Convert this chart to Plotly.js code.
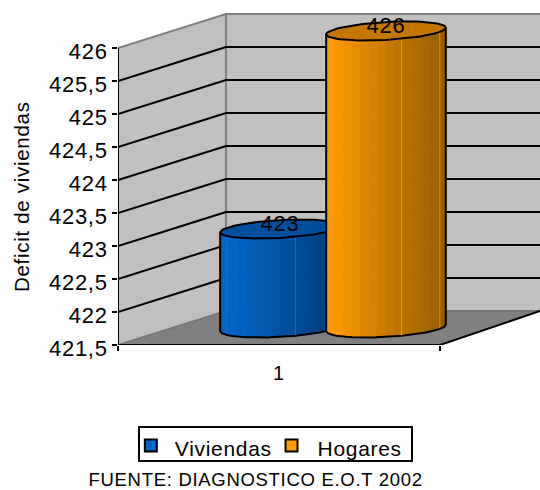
<!DOCTYPE html>
<html>
<head>
<meta charset="utf-8">
<script src="https://cdn.plot.ly/plotly-3.0.1.min.js"></script>
<style>
  html, body { margin: 0; padding: 0; background: #fff; }
  #chart text { letter-spacing: 0.7px; }
  /* Legend keys sit close to the frame, with a wider gap before each name */
  #chart .legend .traces:nth-child(1) .legendsymbols { transform: translate(-9px, -4.5px); }
  #chart .legend .traces:nth-child(1) .legendtext { transform: translate(-5px, -2px); }
  #chart .legend .traces:nth-child(2) .legendsymbols { transform: translate(-4px, -4.5px); }
  #chart .legend .traces:nth-child(2) .legendtext { transform: translate(2px, -2px); }
  #chart .legend .bg { width: 273px; height: 34.5px; transform: translateY(-2px); }
</style>
</head>
<body>
<div id="chart" style="width:540px;height:490px"></div>
<script>
// Chart data
const seriesNames = ['Viviendas', 'Hogares'];
const seriesValues = [423, 426];
const categoryLabels = ['1'];
const tickValues = [421.5, 422, 422.5, 423, 423.5, 424, 424.5, 425, 425.5, 426];
const tickLabels = ['421,5', '422', '422,5', '423', '423,5', '424', '424,5', '425', '425,5', '426'];
const axisTitle = 'Deficit de viviendas';
const sourceNote = 'FUENTE: DIAGNOSTICO E.O.T 2002';

// Box geometry in axis units: the floor and the back wall are sheared away from the front plane
const yMin = 421.5, yMax = 426;
const depthX = 0.3354, depthY = 0.5152;
const xFront = [-0.5, 0.5];
const xEnd = 0.8106;
const yTop = 426.545;
const seriesOffset = [-0.1646, 0.1646];

// Cylinder cross-section: sheared circle
const R = 0.174, P = 0.065, Q = 0.144;
const W = Math.hypot(R, P), PHI = Math.atan2(P, R);

const palette = [
  { from: [0, 102, 204], to: [0, 62, 122], cap: '#00509f' },
  { from: [255, 153, 0], to: [150, 94, 0], cap: '#c47600' }
];
const BANDS = 14;

const mix = (a, b, k) => `rgb(${a.map((v, i) => Math.round(v + (b[i] - v) * k)).join(',')})`;
const lowerArc = (cx, level, x) => level + Q * Math.sin(PHI - Math.acos(Math.max(-1, Math.min(1, (x - cx) / W))));

function ellipse(cx, level) {
  const xs = [], ys = [];
  for (let i = 0; i <= 72; i++) {
    const t = i / 72 * 2 * Math.PI;
    xs.push(cx + R * Math.cos(t) + P * Math.sin(t));
    ys.push(level + Q * Math.sin(t));
  }
  return { x: xs, y: ys };
}

function arcPoints(cx, level, a, b, n) {
  const xs = [], ys = [];
  for (let i = 0; i <= n; i++) {
    const x = a + (b - a) * i / n;
    xs.push(x);
    ys.push(lowerArc(cx, level, x));
  }
  return { x: xs, y: ys };
}

const traces = [];
const line = (x, y, color, width) => traces.push({
  x, y, mode: 'lines', line: { color, width }, showlegend: false, hoverinfo: 'skip', cliponaxis: false
});

// Walls and floor
const backX = xFront[0] + depthX;
const backBase = yMin + depthY;
const backTop = yMax + depthY;
const poly = (xs, ys, color) => ({
  type: 'path', layer: 'below', xref: 'x', yref: 'y',
  path: 'M' + xs.map((x, i) => `${x},${ys[i]}`).join('L') + 'Z',
  fillcolor: color, line: { width: 0 }
});
const shapes = [
  poly([xFront[0], backX, backX, xFront[0]], [yMin, backBase, backTop, yMax], '#c0c0c0'),
  poly([backX, xEnd, xEnd, backX], [backBase, backBase, backTop, backTop], '#c0c0c0'),
  poly([xFront[0], xFront[1], xEnd, backX], [yMin, yMin, backBase, backBase], '#808080')
];

// Wall edges
line([xFront[0], backX, xEnd], [yMax, backTop, backTop], '#808080', 2);
line([backX, backX], [backBase, backTop], '#808080', 2);
line([xFront[0], backX, xEnd], [yMin, backBase, backBase], '#777777', 2);

// Gridlines run along the side wall and across the back wall
tickValues.slice(1, -1).forEach(v => {
  line([xFront[0], backX, xEnd], [v, v + depthY, v + depthY], '#000000', 2);
});

// Legend entries and the solid core of each column
seriesNames.forEach((name, i) => {
  traces.splice(i, 0, {
    type: 'bar', name, x: [seriesOffset[i] + depthX / 2], y: [seriesValues[i] - yMin],
    base: [yMin + depthY / 2], width: [0.02],
    marker: { color: mix(palette[i].from, palette[i].from, 0), line: { color: '#000', width: 2 } },
    hoverinfo: 'skip'
  });
});

// Cylinders
seriesValues.forEach((value, i) => {
  const cx = seriesOffset[i] + depthX / 2;
  const top = value + depthY / 2;
  const base = yMin + depthY / 2;
  for (let b = 0; b < BANDS; b++) {
    const a = cx - W + 2 * W * b / BANDS;
    const c = cx - W + 2 * W * (b + 1) / BANDS;
    const up = arcPoints(cx, top, a, c, 4);
    const down = arcPoints(cx, base, c, a, 4);
    const k = (b / (BANDS - 1));
    const color = mix(palette[i].from, palette[i].to, k);
    traces.push({
      x: up.x.concat(down.x), y: up.y.concat(down.y), mode: 'lines', fill: 'toself',
      fillcolor: color, line: { width: 1, color },
      showlegend: false, hoverinfo: 'skip', cliponaxis: false
    });
  }
  // Faint highlights along the shaft
  [0.05, 0.63, 0.95].forEach(f => {
    const hx = cx - W + 2 * W * f;
    line([hx, hx], [lowerArc(cx, base, hx), lowerArc(cx, top, hx)],
      mix(palette[i].from, [255, 255, 255], 0.12), 0.7);
  });
  // Outline of the shaft
  const bottom = arcPoints(cx, base, cx - W, cx + W, 60);
  line(
    [cx - W].concat(bottom.x, [cx + W]),
    [lowerArc(cx, top, cx - W)].concat(bottom.y, [lowerArc(cx, top, cx + W)]),
    '#000000', 2
  );
  // Top cap
  const cap = ellipse(cx, top);
  traces.push({
    x: cap.x, y: cap.y, mode: 'lines', fill: 'toself', fillcolor: palette[i].cap,
    line: { color: '#000000', width: 2 }, showlegend: false, hoverinfo: 'skip', cliponaxis: false
  });
});

// Front edges of the box
line([xFront[0], xFront[0]], [yMin, yMax], '#000000', 2);
line([xFront[0], xFront[1], xEnd], [yMin, yMin, backBase], '#000000', 2);

// Value labels
traces.push({
  x: seriesOffset.map(o => o + depthX / 2),
  y: seriesValues.map(v => v + depthY / 2 + 0.05),
  text: seriesValues.map(String),
  mode: 'text', textposition: 'middle center',
  textfont: { family: 'Liberation Sans, Arial, sans-serif', size: 22, color: '#000' },
  showlegend: false, hoverinfo: 'skip', cliponaxis: false
});

// Tick marks at the category boundaries, on a second axis sharing the same scale
traces.push({ x: xFront, y: [yMin, yMin], xaxis: 'x2', mode: 'none', showlegend: false, hoverinfo: 'skip' });

const font = { family: 'Liberation Sans, Arial, sans-serif', size: 22, color: '#000' };
const layout = {
  width: 540, height: 490,
  margin: { l: 118, r: 0, t: 12, b: 145, pad: 0 },
  paper_bgcolor: '#fff', plot_bgcolor: '#fff',
  barmode: 'overlay',
  font,
  xaxis: {
    range: [xFront[0], xEnd], tickmode: 'array', tickvals: [0], ticktext: categoryLabels,
    ticks: 'outside', ticklen: 10, tickcolor: 'rgba(0,0,0,0)', showgrid: false, zeroline: false,
    showline: false, tickfont: { family: font.family, size: 20, color: '#000' }
  },
  xaxis2: {
    overlaying: 'x', side: 'bottom', anchor: 'y', matches: 'x', range: [xFront[0], xEnd],
    tickmode: 'array', tickvals: xFront, ticktext: ['', ''], ticks: 'outside', ticklen: 5, tickwidth: 2,
    tickcolor: '#000', showgrid: false, zeroline: false, showline: false
  },
  yaxis: {
    range: [yMin, yTop], tickmode: 'array', tickvals: tickValues, ticktext: tickLabels,
    ticks: 'outside', ticklen: 5, tickwidth: 2, tickcolor: '#000', showgrid: false, zeroline: false,
    showline: false, tickfont: font, ticklabelshift: 3
  },
  shapes,
  showlegend: true,
  legend: {
    orientation: 'h', x: 0.047, y: -0.249, xanchor: 'left', yanchor: 'top',
    bgcolor: '#fff', bordercolor: '#000', borderwidth: 2,
    font: { family: font.family, size: 21, color: '#000' }, itemwidth: 30, itemclick: false, itemdoubleclick: false
  },
  annotations: [
    { text: axisTitle, xref: 'paper', yref: 'paper', x: (21 - 118) / 422, y: (345 - 197) / 333,
      textangle: -90, showarrow: false, xanchor: 'center', yanchor: 'middle',
      font: { family: font.family, size: 20.5, color: '#000' } },
    { text: sourceNote, xref: 'paper', yref: 'paper', x: (255 - 118) / 422, y: (345 - 479) / 333,
      showarrow: false, xanchor: 'center', yanchor: 'middle',
      font: { family: font.family, size: 18.5, color: '#000' } }
  ]
};

Plotly.newPlot('chart', traces, layout, { displayModeBar: false, staticPlot: true });
</script>
</body>
</html>
